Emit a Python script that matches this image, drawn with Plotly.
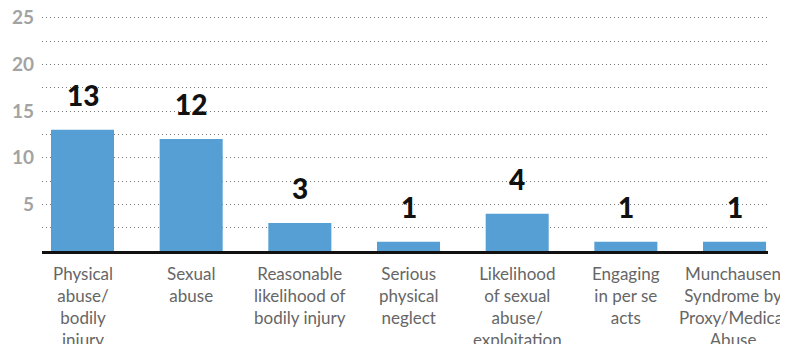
import plotly.graph_objects as go

categories = [
    "Physical<br>abuse/<br>bodily<br>injury",
    "Sexual<br>abuse",
    "Reasonable<br>likelihood of<br>bodily injury",
    "Serious<br>physical<br>neglect",
    "Likelihood<br>of sexual<br>abuse/<br>exploitation",
    "Engaging<br>in per se<br>acts",
    "Munchausen<br>Syndrome by<br>Proxy/Medical<br>Abuse",
]
values = [13, 12, 3, 1, 4, 1, 1]
y_ticks = [5, 10, 15, 20, 25]

xs = list(range(len(categories)))

fig = go.Figure()
fig.add_trace(go.Bar(
    x=xs,
    y=values,
    width=0.58,
    marker=dict(color="#569FD4", line=dict(width=0)),
    hoverinfo="skip",
))

for i, v in enumerate(values):
    fig.add_annotation(
        x=i, y=v, text=str(v), showarrow=False,
        yanchor="middle", yshift=35,
        font=dict(family="Lato", size=28, color="#111111", weight=900),
    )

# category labels below the axis
for i, c in enumerate(categories):
    fig.add_annotation(
        x=i, xref="x", xanchor="center",
        xshift=-2 if i == len(categories) - 1 else 0,
        y=0, yref="paper", yanchor="top", yshift=-10,
        text=c, showarrow=False, align="center",
        font=dict(family="Lato", size=17, color="#666666"),
    )

grid = dict(gridcolor="#7a7a7a", gridwidth=1, griddash="1px,3px")

# page body has an 8px margin, so the figure is offset by (8, 8)
fig.update_layout(
    width=788, height=344,
    margin=dict(l=34, r=28, t=5, b=101),
    paper_bgcolor="white", plot_bgcolor="white",
    showlegend=False,
    font=dict(family="Lato"),
    xaxis=dict(
        range=[-0.3727, 6.308],
        showticklabels=False,
        automargin=False,
        showgrid=False,
        zeroline=False,
        showline=True, linecolor="#111111", linewidth=3,
        ticks="",
    ),
    yaxis=dict(
        range=[0, 25.5],
        automargin=False,
        ticklabeloverflow="allow",
        tickmode="array",
        tickvals=y_ticks,
        ticktext=[str(t) for t in y_ticks],
        showgrid=True, **grid,
        zeroline=False,
        showline=False,
        ticks="",
        ticklabelstandoff=7,
        tickfont=dict(family="Lato", size=19, color="#a3a3a3", weight=700),
        minor=dict(tickmode="linear", tick0=0, dtick=2.5, showgrid=True, **grid),
    ),
)

fig.write_html("out.html", post_script="document.body.style.overflow='hidden';")
